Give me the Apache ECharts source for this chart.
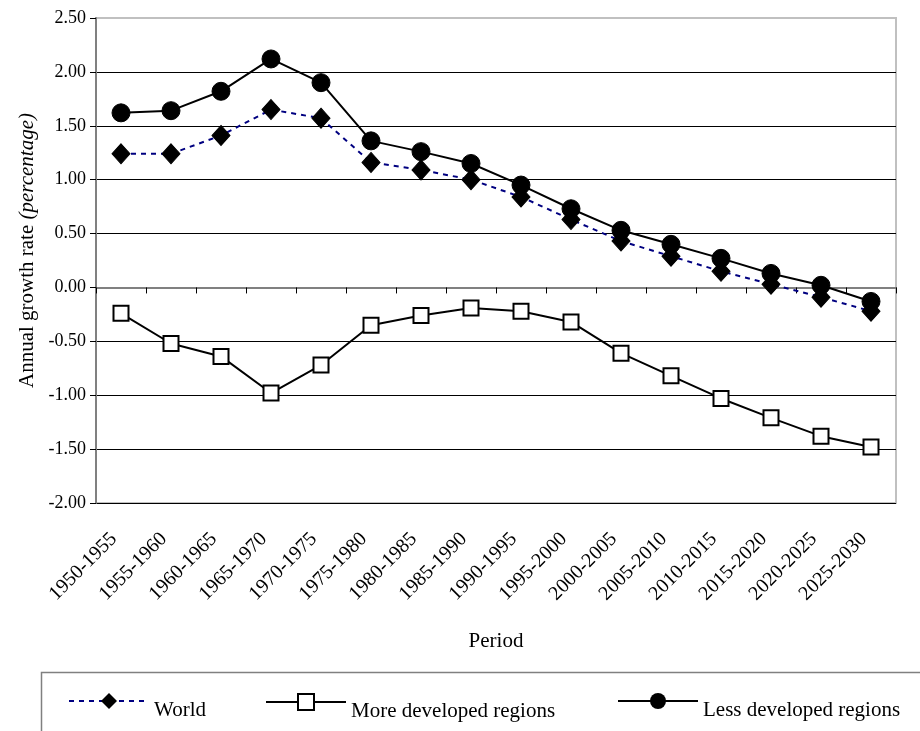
<!DOCTYPE html>
<html>
<head>
<meta charset="utf-8">
<script src="https://cdn.jsdelivr.net/npm/echarts@6/dist/echarts.min.js"></script>
<style>
html,body{margin:0;padding:0;background:#fff;}
#chart{width:920px;height:731px;}
</style>
</head>
<body>
<div id="chart"></div>
<script>
var categories = ['1950-1955','1955-1960','1960-1965','1965-1970','1970-1975','1975-1980','1980-1985','1985-1990','1990-1995','1995-2000','2000-2005','2005-2010','2010-2015','2015-2020','2020-2025','2025-2030'];
var world = [1.24,1.24,1.41,1.65,1.57,1.16,1.09,1.00,0.84,0.63,0.43,0.29,0.15,0.03,-0.09,-0.22];
var moreDeveloped = [-0.24,-0.52,-0.64,-0.98,-0.72,-0.35,-0.26,-0.19,-0.22,-0.32,-0.61,-0.82,-1.03,-1.21,-1.38,-1.48];
var lessDeveloped = [1.62,1.64,1.82,2.12,1.90,1.36,1.26,1.15,0.95,0.73,0.53,0.40,0.27,0.13,0.02,-0.13];
var seriesNames = ['World','More developed regions','Less developed regions'];

var FONT = 'Liberation Serif';
function legendAt(name, left){
  return {
    left:left, top:693, padding:0, itemWidth:80, itemHeight:20,
    formatter:'{t|{name}}',
    textStyle:{fontFamily:FONT,fontSize:21,color:'#000',
      rich:{t:{fontFamily:FONT,fontSize:21,color:'#000',padding:[18,0,0,0]}}},
    data:[name]
  };
}
var chart = echarts.init(document.getElementById('chart'), null, {renderer:'canvas'});
chart.setOption({
  animation:false,
  backgroundColor:'#fff',
  textStyle:{fontFamily:FONT,color:'#000'},
  grid:{left:96,right:24,top:18,bottom:228,show:true,borderColor:'#c0c0c0',borderWidth:2,backgroundColor:'transparent'},
  graphic:[{type:'rect',left:39,top:670,shape:{width:920,height:100},style:{fill:'none',stroke:'#808080',lineWidth:1.5},z:-1}],
  legend:[legendAt(seriesNames[0],68),legendAt(seriesNames[1],265),legendAt(seriesNames[2],617)],
  xAxis:{
    type:'category',data:categories,boundaryGap:true,
    name:'Period',nameLocation:'middle',nameGap:128,
    nameTextStyle:{fontFamily:FONT,fontSize:21,color:'#000'},
    axisLine:{lineStyle:{color:'#808080',width:2}},
    axisTick:{show:true,alignWithLabel:false,length:6,lineStyle:{color:'#000'}},
    axisLabel:{rotate:45,fontFamily:FONT,fontSize:20,color:'#000',margin:40,interval:0,align:'right',verticalAlign:'bottom'}
  },
  yAxis:{
    type:'value',min:-2,max:2.5,interval:0.5,
    name:'{a|Annual growth rate }{b|(percentage)}',nameLocation:'middle',nameGap:54,
    nameTextStyle:{padding:[0,0,0,20],rich:{a:{fontFamily:FONT,fontSize:21,color:'#000'},b:{fontFamily:FONT,fontSize:21,fontStyle:'italic',color:'#000'}}},
    axisLine:{show:true,lineStyle:{color:'#808080',width:2}},
    axisTick:{show:true,length:6,lineStyle:{color:'#000'}},
    axisLabel:{fontFamily:FONT,fontSize:18,color:'#000',margin:10,formatter:function(v){return v.toFixed(2);}},
    splitLine:{show:true,lineStyle:{color:['#000','#000','#000','#000','#000','#000','#000','#000','#000','#c0c0c0'],width:1}}
  },
  series:[
    {name:seriesNames[0],type:'line',data:world,symbol:'diamond',symbolSize:[18,20],
     itemStyle:{color:'#000',borderColor:'#000'},lineStyle:{color:'#000080',width:2,type:[5,5]},z:3},
    {name:seriesNames[1],type:'line',data:moreDeveloped,symbol:'rect',symbolSize:15,
     itemStyle:{color:'#fff',borderColor:'#000',borderWidth:2},lineStyle:{color:'#000',width:2},z:2},
    {name:seriesNames[2],type:'line',data:lessDeveloped,symbol:'circle',symbolSize:18,
     itemStyle:{color:'#000',borderColor:'#000'},lineStyle:{color:'#000',width:2},z:4}
  ]
});
</script>
</body>
</html>
